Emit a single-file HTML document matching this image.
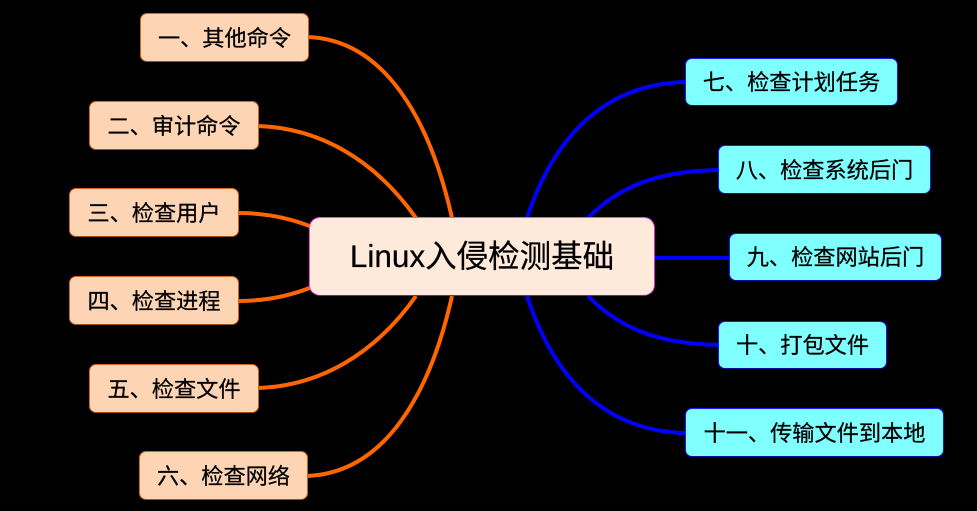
<!DOCTYPE html>
<html><head><meta charset="utf-8"><style>
html,body{margin:0;padding:0;background:#000;width:977px;height:511px;overflow:hidden}
.n{position:absolute;box-sizing:border-box;border-radius:7px;height:48px;border:1px solid;padding-bottom:1px;display:flex;align-items:center;justify-content:center;font:22.2px/1 "WenQuanYi Zen Hei","Noto Sans CJK SC",sans-serif;color:#000;white-space:nowrap;-webkit-text-stroke:.25px #000}
.l{background:#fed5b4;border-color:#d4661c #c8641e #a04f18 #d4661c}
.r{background:#80ffff;border-color:#1a1aff #1a1aee #10109c #1a1aff}
svg{position:absolute;left:0;top:0}
</style></head><body>
<svg width="977" height="511" fill="none" stroke-width="4">
<g stroke="#ff6600">
<path d="M308 37C385 40 430 120 452 218"/>
<path d="M258 126C320 128 375 160 416 218"/>
<path d="M238 213C265 213 290 218 312 227"/>
<path d="M238 301C265 301 290 296 312 287"/>
<path d="M258 388C320 386 375 354 416 296"/>
<path d="M307 476C385 473 430 394 452 296"/>
</g>
<g stroke="#0000ff">
<path d="M685 82C610 84 556 130 527 218"/>
<path d="M719 170C660 171 620 185 588 218"/>
<path d="M654 258H730"/>
<path d="M719 345C660 344 620 329 588 296"/>
<path d="M685 433C610 431 556 385 527 296"/>
</g>
</svg>
<div class="n" style="left:309px;top:217px;width:346px;height:79px;border-radius:11px;padding-bottom:0;background:#feeadb;border-color:#f050e0 #d030c0 #a0109c #f050e0;font-size:31.5px;font-family:'Liberation Sans','WenQuanYi Zen Hei','Noto Sans CJK SC',sans-serif">Linux入侵检测基础</div>
<div class="n l" style="left:140px;top:13px;width:169px;height:49px">一、其他命令</div>
<div class="n l" style="left:89px;top:101px;width:170px;height:49px">二、审计命令</div>
<div class="n l" style="left:69px;top:188px;width:170px;height:49px">三、检查用户</div>
<div class="n l" style="left:69px;top:276px;width:170px;height:49px">四、检查进程</div>
<div class="n l" style="left:89px;top:364px;width:170px;height:49px">五、检查文件</div>
<div class="n l" style="left:139px;top:451px;width:169px;height:49px">六、检查网络</div>
<div class="n r" style="left:685px;top:58px;width:213px;height:48px">七、检查计划任务</div>
<div class="n r" style="left:718px;top:145px;width:213px;height:49px">八、检查系统后门</div>
<div class="n r" style="left:729px;top:233px;width:213px;height:48px">九、检查网站后门</div>
<div class="n r" style="left:718px;top:321px;width:169px;height:48px">十、打包文件</div>
<div class="n r" style="left:685px;top:408px;width:259px;height:49px">十一、传输文件到本地</div>
</body></html>
